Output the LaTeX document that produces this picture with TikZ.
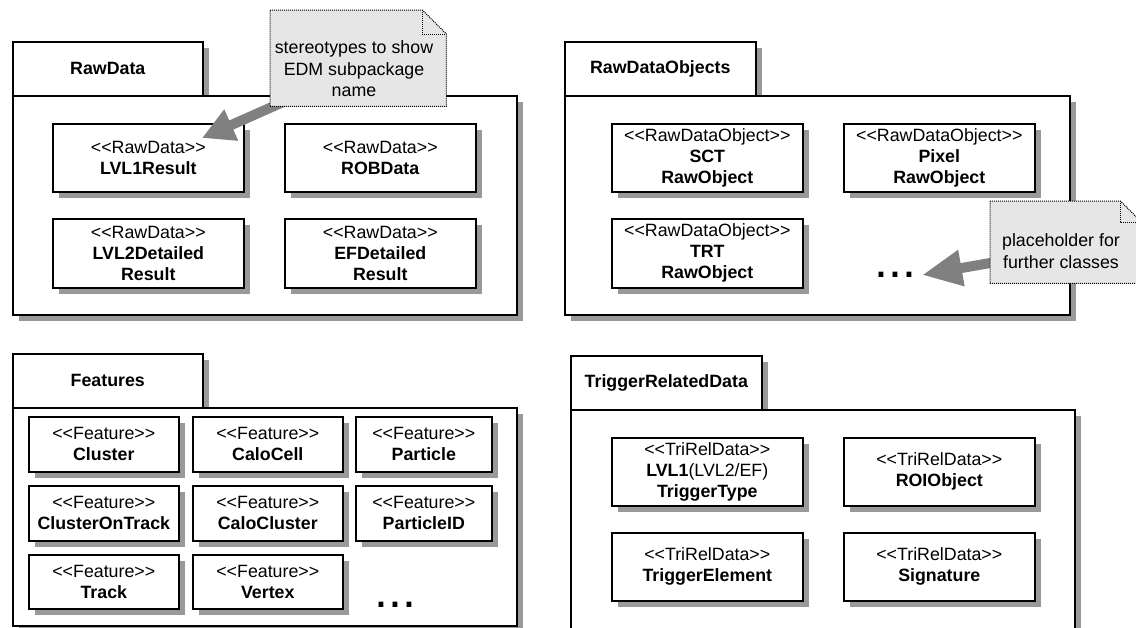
\documentclass[tikz,border=0pt]{standalone}
\usepackage{fontspec}
\setmainfont{Liberation Sans}[Ligatures=TeXOff]
\usetikzlibrary{arrows.meta,shadows}
\definecolor{shadowgray}{HTML}{999999}
\definecolor{notegray}{HTML}{E6E6E6}
\definecolor{arrowgray}{HTML}{808080}
\newcommand\stereo[1]{\textless\textless#1\textgreater\textgreater}
\tikzset{
  boxshadow/.style={drop shadow={shadow xshift=6.5pt, shadow yshift=-6.5pt, fill=shadowgray, opacity=1}},
  classbox/.style={draw, line width=1.6pt, fill=white, align=center, inner sep=0pt, anchor=north west,
    font=\fontsize{17.8}{21}\selectfont, boxshadow},
  pkgpart/.style={draw, line width=1.6pt, fill=white, align=center, inner sep=0pt, anchor=north west,
    font=\fontsize{17.8}{21}\selectfont\bfseries, boxshadow},
  notetext/.style={align=center, inner sep=0pt, font=\fontsize{17.8}{21.5}\selectfont},
  notefill/.style={fill=notegray},
  noteline/.style={draw=black, line width=1pt, dash pattern=on 1pt off 1pt},
  bigarrow/.style={draw=arrowgray, line width=10pt},
  moredots/.style={inner sep=0pt, anchor=base west, font=\fontsize{50}{50}\selectfont}
}
% name, x1, y1, x2, y2, text
\newcommand\cbox[6]{\node[classbox, minimum width=#4-#2, minimum height=#5-#3] (#1) at (#2,#3) {#6};}
\newcommand\ppart[6]{\node[pkgpart, minimum width=#4-#2, minimum height=#5-#3] (#1) at (#2,#3) {#6};}
% name, x1, y1, x2, y2, fold
\newcommand\notebox[6]{%
  \node[inner sep=0pt, anchor=north west, minimum width=#4-#2, minimum height=#5-#3] (#1) at (#2,#3) {};
  \path[notefill] (#1.north west) -- ([xshift=-#6pt]#1.north east) -- ([yshift=-#6pt]#1.north east)
     -- (#1.south east) -- (#1.south west) -- cycle;
  \path[noteline] (#1.north west) -- ([xshift=-#6pt]#1.north east) -- ([yshift=-#6pt]#1.north east)
     -- (#1.south east) -- (#1.south west) -- cycle;
  \path[noteline] ([xshift=-#6pt]#1.north east) |- ([yshift=-#6pt]#1.north east);
}
\begin{document}
\begin{tikzpicture}[x=1pt,y=-1pt]
\clip (0,0) rectangle (1136,627);
\fill[white] (0,0) rectangle (1136,627);

% ---------- RawData ----------
\ppart{rawtab}{12}{41}{202}{95}{RawData}
\ppart{rawbody}{12}{95}{516}{314}{}
\cbox{lvl1}{52}{123}{243}{191}{\stereo{RawData}\\\textbf{LVL1Result}}
\cbox{robdata}{284}{123}{475}{191}{\stereo{RawData}\\\textbf{ROBData}}
\cbox{lvl2}{52}{218}{243}{287}{\stereo{RawData}\\\textbf{LVL2Detailed}\\\textbf{Result}}
\cbox{efdet}{284}{218}{475}{287}{\stereo{RawData}\\\textbf{EFDetailed}\\\textbf{Result}}

% ---------- RawDataObjects ----------
\ppart{rdotab}{564}{41}{755}{95}{RawDataObjects}
\ppart{rdobody}{564}{95}{1069}{314}{}
\cbox{sct}{611}{123}{802}{191}{\stereo{RawDataObject}\\\textbf{SCT}\\\textbf{RawObject}}
\cbox{pixel}{843}{123}{1034}{191}{\stereo{RawDataObject}\\\textbf{Pixel}\\\textbf{RawObject}}
\cbox{trt}{611}{218}{802}{287}{\stereo{RawDataObject}\\\textbf{TRT}\\\textbf{RawObject}}
\node[moredots] (rdodots) at (874.5,277) {...};

% ---------- Features ----------
\ppart{feattab}{12}{353}{202}{407}{Features}
\ppart{featbody}{12}{407}{516}{625}{}
\cbox{cluster}{28}{416}{178}{471}{\stereo{Feature}\\\textbf{Cluster}}
\cbox{calocell}{192}{416}{342}{471}{\stereo{Feature}\\\textbf{CaloCell}}
\cbox{particle}{355}{416}{491}{471}{\stereo{Feature}\\\textbf{Particle}}
\cbox{clontrack}{28}{485}{178}{540}{\stereo{Feature}\\\textbf{ClusterOnTrack}}
\cbox{calocluster}{192}{485}{342}{540}{\stereo{Feature}\\\textbf{CaloCluster}}
\cbox{particleid}{355}{485}{491}{540}{\stereo{Feature}\\\textbf{ParticleID}}
\cbox{track}{28}{554}{178}{608}{\stereo{Feature}\\\textbf{Track}}
\cbox{vertex}{192}{554}{342}{608}{\stereo{Feature}\\\textbf{Vertex}}
\node[moredots] (featdots) at (374.5,607) {...};

% ---------- TriggerRelatedData ----------
\ppart{trigtab}{570}{355}{761}{409}{TriggerRelatedData}
\ppart{trigbody}{570}{409}{1074}{660}{}
\cbox{trigtype}{611}{437}{802}{505}{\stereo{TriRelData}\\\textbf{LVL1}(LVL2/EF)\\\textbf{TriggerType}}
\cbox{roiobj}{843}{437}{1034}{505}{\stereo{TriRelData}\\\textbf{ROIObject}}
\cbox{trigelem}{611}{532}{802}{600}{\stereo{TriRelData}\\\textbf{TriggerElement}}
\cbox{signature}{843}{532}{1034}{600}{\stereo{TriRelData}\\\textbf{Signature}}

% ---------- notes and arrows ----------
\coordinate (n1tail) at (290,99);
\coordinate (n1tip) at (202,138);
\draw[bigarrow, -{Triangle[length=32pt,width=32pt]}] (n1tail) -- (n1tip);
\notebox{note1}{270}{10}{446}{106}{24}
\node[notetext] (note1txt) at (354,69) {stereotypes to show\\EDM subpackage\\name};

\coordinate (n2tail) at (1010,259.5);
\coordinate (n2tip) at (922,275);
\draw[bigarrow, -{Triangle[length=40pt,width=34pt]}] (n2tail) -- (n2tip);
\notebox{note2}{990}{201}{1141}{283}{21}
\node[notetext] (note2txt) at (1061,251) {placeholder for\\further classes};
\end{tikzpicture}
\end{document}
